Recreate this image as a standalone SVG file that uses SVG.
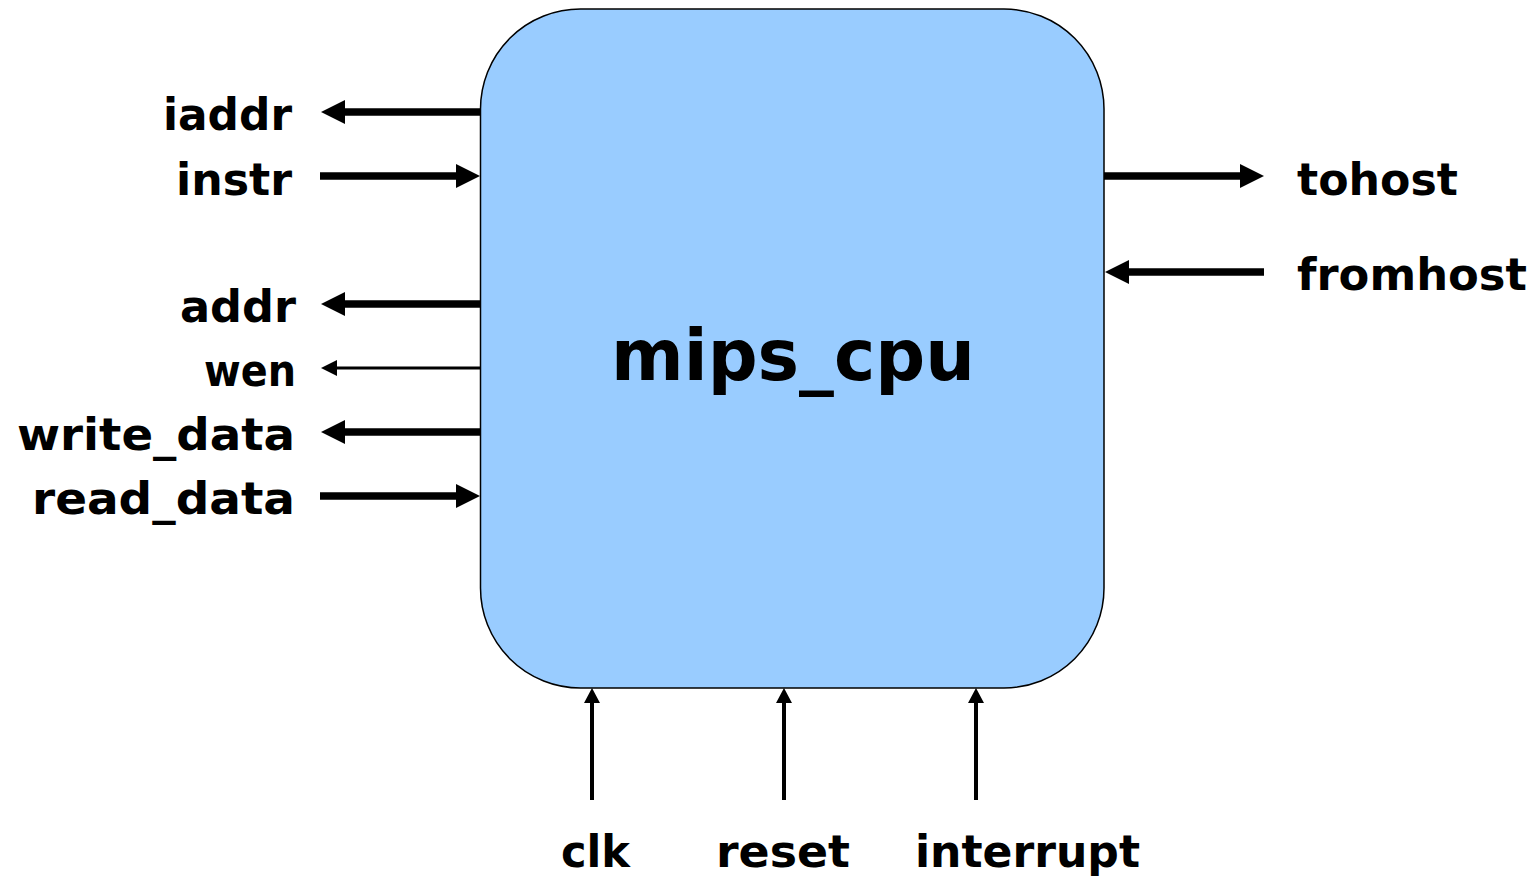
<svg xmlns="http://www.w3.org/2000/svg" width="1539" height="881" viewBox="0 0 1539 881">
<style>
.lbl{font-family:"Comic Sans MS","DejaVu Sans","Liberation Sans",sans-serif;font-weight:bold;font-size:44px;fill:#000}
.thick{stroke:#000;stroke-width:7.5;fill:none}
.thin{stroke:#000;stroke-width:3;fill:none}
.vert{stroke:#000;stroke-width:4;fill:none}
</style>
<defs>
<marker id="ah" markerUnits="userSpaceOnUse" markerWidth="24" markerHeight="24" refX="2" refY="12" orient="auto"><path d="M0,0 L24,12 L0,24 z" fill="#000"/></marker>
<marker id="ahs" markerUnits="userSpaceOnUse" markerWidth="16" markerHeight="16" refX="2" refY="8" orient="auto"><path d="M0,0 L16,8 L0,16 z" fill="#000"/></marker>
<marker id="ahv" markerUnits="userSpaceOnUse" markerWidth="16" markerHeight="16" refX="2" refY="8" orient="auto"><path d="M0,0 L15,8 L0,16 z" fill="#000"/></marker>
</defs>
<g id="mips_cpu">
<rect x="480.5" y="9" width="623.5" height="679" rx="100" ry="100" fill="#99ccff" stroke="#000" stroke-width="1.5"/>
<text x="611" y="380" class="lbl" style="font-size:72px" textLength="364" lengthAdjust="spacingAndGlyphs">mips_cpu</text>
</g>
<g id="connectors">
<line class="thick" x1="480" y1="112" x2="343" y2="112" marker-end="url(#ah)"/>
<line class="thick" x1="320" y1="176" x2="458" y2="176" marker-end="url(#ah)"/>
<line class="thick" x1="480" y1="304" x2="343" y2="304" marker-end="url(#ah)"/>
<line class="thin" x1="480" y1="368" x2="335" y2="368" marker-end="url(#ahs)"/>
<line class="thick" x1="480" y1="432" x2="343" y2="432" marker-end="url(#ah)"/>
<line class="thick" x1="320" y1="496" x2="458" y2="496" marker-end="url(#ah)"/>
<line class="thick" x1="1104" y1="176" x2="1242" y2="176" marker-end="url(#ah)"/>
<line class="thick" x1="1264" y1="272" x2="1127" y2="272" marker-end="url(#ah)"/>
<line class="vert" x1="592" y1="800" x2="592" y2="701" marker-end="url(#ahv)"/>
<line class="vert" x1="784" y1="800" x2="784" y2="701" marker-end="url(#ahv)"/>
<line class="vert" x1="976" y1="800" x2="976" y2="701" marker-end="url(#ahv)"/>
</g>
<g id="iaddr"><text class="lbl" x="163" y="130" textLength="129" lengthAdjust="spacingAndGlyphs">iaddr</text></g>
<g id="instr"><text class="lbl" x="176" y="195" textLength="116" lengthAdjust="spacingAndGlyphs">instr</text></g>
<g id="addr"><text class="lbl" x="180" y="322" textLength="116" lengthAdjust="spacingAndGlyphs">addr</text></g>
<g id="wen"><text class="lbl" x="204" y="386" textLength="92" lengthAdjust="spacingAndGlyphs">wen</text></g>
<g id="write_data"><text class="lbl" x="17" y="450" textLength="278" lengthAdjust="spacingAndGlyphs">write_data</text></g>
<g id="read_data"><text class="lbl" x="32" y="514" textLength="263" lengthAdjust="spacingAndGlyphs">read_data</text></g>
<g id="tohost"><text class="lbl" x="1297" y="195" textLength="161" lengthAdjust="spacingAndGlyphs">tohost</text></g>
<g id="fromhost"><text class="lbl" x="1297" y="290" textLength="230" lengthAdjust="spacingAndGlyphs">fromhost</text></g>
<g id="clk"><text class="lbl" x="561" y="867" textLength="69" lengthAdjust="spacingAndGlyphs">clk</text></g>
<g id="reset"><text class="lbl" x="716" y="867" textLength="134" lengthAdjust="spacingAndGlyphs">reset</text></g>
<g id="interrupt"><text class="lbl" x="915" y="867" textLength="225" lengthAdjust="spacingAndGlyphs">interrupt</text></g>
</svg>
